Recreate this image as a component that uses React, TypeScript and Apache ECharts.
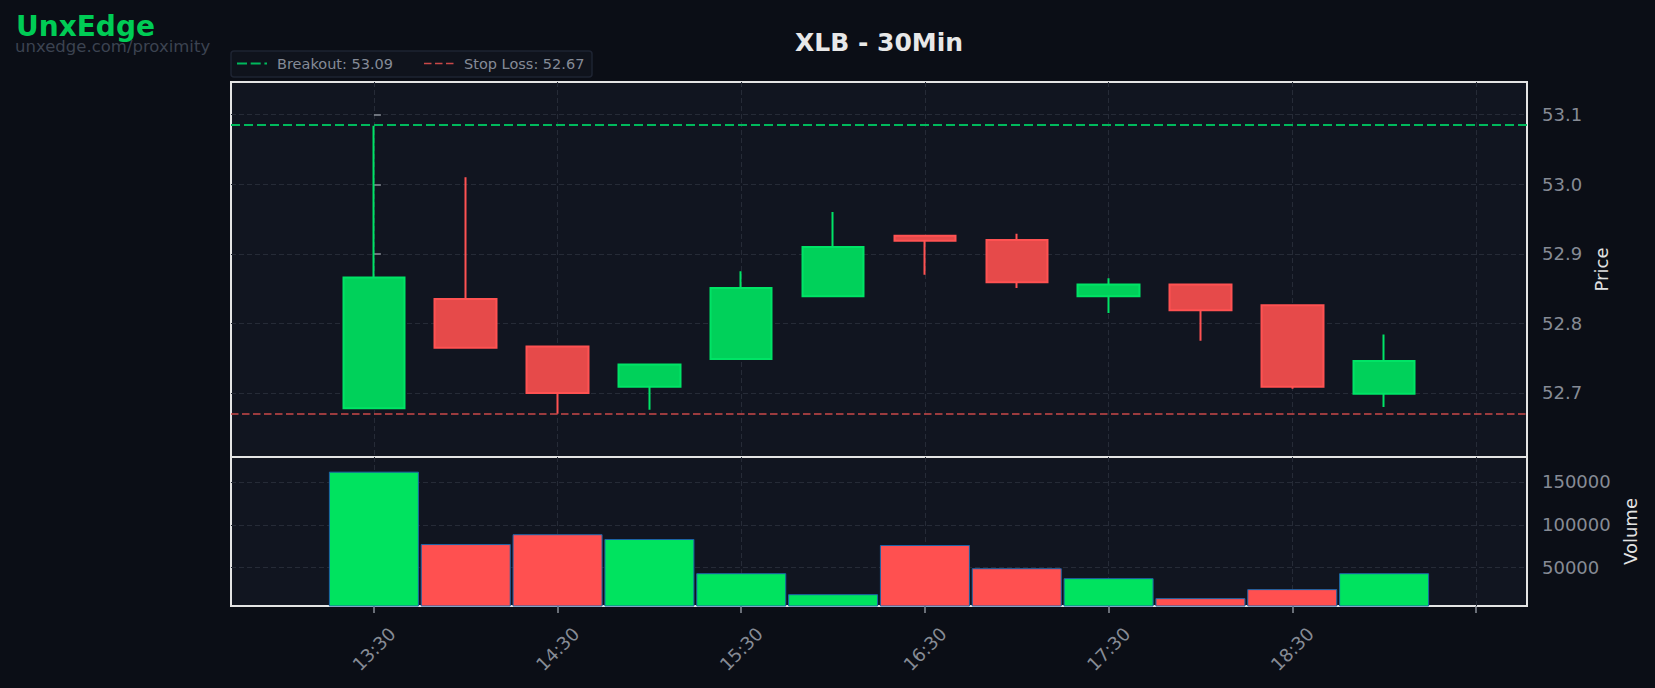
import React, { useEffect, useRef } from 'react';
import * as echarts from 'echarts';

// ---- data ----
const times = ['13:30', '14:00', '14:30', '15:00', '15:30', '16:00', '16:30', '17:00', '17:30', '18:00', '18:30', '19:00'];
const opens = [52.678, 52.835, 52.767, 52.709, 52.749, 52.839, 52.926, 52.920, 52.839, 52.856, 52.826, 52.699];
const closes = [52.866, 52.765, 52.700, 52.741, 52.851, 52.910, 52.919, 52.859, 52.856, 52.819, 52.709, 52.746];
const lows = [52.678, 52.765, 52.670, 52.676, 52.749, 52.839, 52.870, 52.851, 52.815, 52.775, 52.706, 52.680];
const highs = [53.084, 53.010, 52.767, 52.741, 52.875, 52.960, 52.926, 52.929, 52.865, 52.856, 52.826, 52.784];
const volumes = [162000, 77500, 89000, 83400, 43500, 19000, 76400, 49300, 37700, 14400, 24900, 43500];

const hourTicks = ['13:30', '14:30', '15:30', '16:30', '17:30', '18:30', '19:30'];
const labeledHourTicks = ['13:30', '14:30', '15:30', '16:30', '17:30', '18:30'];
const priceTicks = [52.7, 52.8, 52.9, 53.0, 53.1];
const volumeTicks = [50000, 100000, 150000];

const breakoutLevel = 53.085;
const stopLossLevel = 52.67;
const legendTexts = ['Breakout: 53.09', 'Stop Loss: 52.67'];
const titleText = 'XLB - 30Min';
const brandText = 'UnxEdge';
const urlText = 'unxedge.com/proximity';

// time "HH:MM" -> bar index (30-minute bars from the first bar)
const toMinutes = (t: string) => {
  const [h, m] = t.split(':').map(Number);
  return h * 60 + m;
};
const startMin = toMinutes(times[0]);
const toIndex = (t: string) => (toMinutes(t) - startMin) / 30;

const tickPos = hourTicks.map(toIndex);
const labelPos = labeledHourTicks.map(toIndex);

const FONT = 'DejaVu Sans';
const GRID_LINE = { show: true, lineStyle: { color: '#262b37', type: [5, 3], width: 1 } };
const TICK_COLOR = '#8a8f99';
const LABEL_COLOR = '#868b95';

export default function App() {
  const ref = useRef<HTMLDivElement>(null);

  useEffect(() => {
    document.body.style.margin = '0';
    document.body.style.background = '#0b0e16';
    if (!ref.current) return;
    const chart = echarts.init(ref.current, undefined, { renderer: 'svg' });

    const labelFor = (v: number) => {
      const i = labelPos.indexOf(v);
      return i >= 0 ? labeledHourTicks[i] : '';
    };

    const option: any = {
      animation: false,
      backgroundColor: '#0b0e16',
      textStyle: { fontFamily: FONT },
      grid: [
        { left: 231, top: 82, width: 1296, height: 375, show: true, backgroundColor: '#111520', borderColor: '#e4e4e4', borderWidth: 2, outerBoundsMode: 'none', containLabel: false },
        { left: 231, top: 457, width: 1296, height: 149, show: true, backgroundColor: '#111520', borderColor: '#e4e4e4', borderWidth: 2, outerBoundsMode: 'none', containLabel: false },
      ],
      xAxis: [
        {
          type: 'value', gridIndex: 0, min: -1.556, max: 12.556,
          axisLine: { show: false },
          axisTick: { show: false, customValues: tickPos },
          axisLabel: { show: false, customValues: labelPos },
          splitLine: GRID_LINE,
        },
        {
          type: 'value', gridIndex: 1, min: -1.556, max: 12.556,
          axisLine: { show: false },
          axisTick: { show: true, customValues: tickPos, length: 7, lineStyle: { color: TICK_COLOR, width: 1.5 } },
          axisLabel: {
            show: true, customValues: labelPos, formatter: (v: number) => labelFor(v),
            rotate: 45, align: 'center', verticalAlign: 'middle', margin: 43,
            color: LABEL_COLOR, fontSize: 18, fontFamily: FONT,
          },
          splitLine: GRID_LINE,
        },
      ],
      yAxis: [
        {
          type: 'value', gridIndex: 0, position: 'right', min: 52.608, max: 53.147,
          axisLine: { show: false },
          axisTick: { show: true, customValues: priceTicks, length: 7, lineStyle: { color: TICK_COLOR, width: 1.5 } },
          axisLabel: { customValues: priceTicks, formatter: (v: number) => v.toFixed(1), color: LABEL_COLOR, fontSize: 18, margin: 15, fontFamily: FONT },
          splitLine: GRID_LINE,
          name: 'Price', nameLocation: 'middle', nameRotate: 90, nameGap: 62,
          nameTextStyle: { color: '#e2e2e2', fontSize: 18, fontFamily: FONT },
        },
        {
          type: 'value', gridIndex: 1, position: 'right', min: 5200, max: 179100,
          axisLine: { show: false },
          axisTick: { show: true, customValues: volumeTicks, length: 7, lineStyle: { color: TICK_COLOR, width: 1.5 } },
          axisLabel: { customValues: volumeTicks, formatter: (v: number) => String(Math.round(v)), color: LABEL_COLOR, fontSize: 18, margin: 15, fontFamily: FONT },
          splitLine: GRID_LINE,
          name: 'Volume', nameLocation: 'middle', nameRotate: 90, nameGap: 90,
          nameTextStyle: { color: '#e2e2e2', fontSize: 18, fontFamily: FONT },
        },
      ],
      series: [
        {
          type: 'candlestick', xAxisIndex: 0, yAxisIndex: 0,
          data: times.map((_, i) => [i, opens[i], closes[i], lows[i], highs[i]]),
          barWidth: 62,
          itemStyle: { color: '#00d15a', color0: '#e64a4a', borderColor: '#00e466', borderColor0: '#ff5252', borderWidth: 2 },
          markLine: {
            symbol: 'none', silent: true, animation: false, precision: 4,
            label: { show: false },
            data: [
              { yAxis: breakoutLevel, lineStyle: { color: '#00b85c', type: [9, 4], width: 2 } },
              { yAxis: stopLossLevel, lineStyle: { color: '#c94848', type: [7.5, 3.5], width: 1.6 } },
            ],
          },
          z: 3,
        },
        {
          type: 'bar', xAxisIndex: 1, yAxisIndex: 1, barWidth: 90,
          data: volumes.map((v, i) => ({
            value: [i, v],
            itemStyle: { color: closes[i] >= opens[i] ? '#00e35f' : '#ff5050' },
          })),
          itemStyle: { borderColor: '#1d64a8', borderWidth: 1 },
          clip: true,
        },
      ],
      graphic: [
        { type: 'text', x: 16, y: 26, style: { text: brandText, fill: '#00cc55', fontSize: 28, fontWeight: 'bold', fontFamily: FONT, align: 'left', verticalAlign: 'middle' } },
        { type: 'text', x: 15, y: 46, style: { text: urlText, fill: '#3c4351', fontSize: 16.5, fontFamily: FONT, align: 'left', verticalAlign: 'middle' } },
        { type: 'text', x: 879, y: 42, style: { text: titleText, fill: '#e8e8e8', fontSize: 25, fontWeight: 'bold', fontFamily: FONT, align: 'center', verticalAlign: 'middle' } },
        { type: 'rect', shape: { x: 231, y: 51, width: 361, height: 26, r: 3 }, style: { fill: '#0f131c', stroke: '#1e2432', lineWidth: 1.5 } },
        { type: 'line', shape: { x1: 237, y1: 63.5, x2: 267, y2: 63.5 }, style: { stroke: '#00b85c', lineWidth: 2, lineDash: [10, 3.7] } },
        { type: 'text', x: 277, y: 63.5, style: { text: legendTexts[0], fill: '#858b97', fontSize: 14.5, fontFamily: FONT, align: 'left', verticalAlign: 'middle' } },
        { type: 'line', shape: { x1: 424, y1: 63.5, x2: 454, y2: 63.5 }, style: { stroke: '#c94848', lineWidth: 1.6, lineDash: [7.5, 3.5] } },
        { type: 'text', x: 464, y: 63.5, style: { text: legendTexts[1], fill: '#858b97', fontSize: 14.5, fontFamily: FONT, align: 'left', verticalAlign: 'middle' } },
      ],
    };

    chart.setOption(option);
    return () => chart.dispose();
  }, []);

  return <div ref={ref} style={{ position: 'absolute', left: 0, top: 0, width: 1655, height: 688 }} />;
}
